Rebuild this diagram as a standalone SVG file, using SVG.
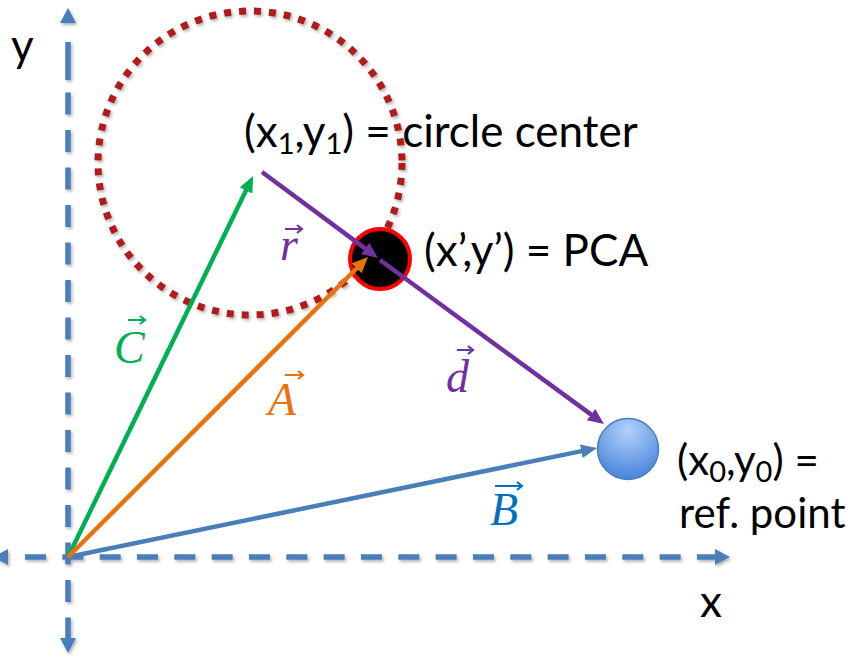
<svg xmlns="http://www.w3.org/2000/svg" width="856" height="659" viewBox="0 0 856 659">
<defs>
  <style>
    .lbl { font-family: Lato, "Liberation Sans", sans-serif; font-size: 44px; fill: #000; }
    .lbs { font-size: 42px; }
    .sub { font-size: 29px; }
    .vec { font-family: "Liberation Serif", serif; font-style: italic; font-size: 46px; }
    .axis { stroke: #4A7EBB; stroke-width: 5.5; fill: none; }
    .axhead { fill: #4A7EBB; }
    .vline { stroke-width: 4.5; fill: none; }
    .varrow { stroke-width: 2.2; fill: none; }
  </style>
  <filter id="sh" x="-10%" y="-10%" width="120%" height="120%">
    <feDropShadow dx="1.5" dy="2" stdDeviation="1.5" flood-color="#000" flood-opacity="0.3"/>
  </filter>
  <radialGradient id="refg" cx="50%" cy="20%" r="85%">
    <stop offset="0" stop-color="#b3d1ff"/>
    <stop offset="1" stop-color="#3f7fd6"/>
  </radialGradient>
  <marker id="mG" markerUnits="userSpaceOnUse" markerWidth="16" markerHeight="14" viewBox="0 0 16 14" refX="4" refY="7" orient="auto"><path d="M0,0 L16,7 L0,14 z" fill="#00B050"/></marker>
  <marker id="mO" markerUnits="userSpaceOnUse" markerWidth="16" markerHeight="14" viewBox="0 0 16 14" refX="4" refY="7" orient="auto"><path d="M0,0 L16,7 L0,14 z" fill="#E8720C"/></marker>
  <marker id="mB" markerUnits="userSpaceOnUse" markerWidth="16" markerHeight="14" viewBox="0 0 16 14" refX="4" refY="7" orient="auto"><path d="M0,0 L16,7 L0,14 z" fill="#4A7EBB"/></marker>
  <marker id="mP" markerUnits="userSpaceOnUse" markerWidth="16" markerHeight="14" viewBox="0 0 16 14" refX="4" refY="7" orient="auto"><path d="M0,0 L16,7 L0,14 z" fill="#7030A0"/></marker>
</defs>

<g id="axes" filter="url(#sh)">
  <line class="axis" x1="25" y1="557" x2="715" y2="557" stroke-dasharray="21 16.33"/>
  <polygon class="axhead" points="715,549 730,557 715,565"/>
  <polygon class="axhead" points="8,549 -7,557 8,565"/>
  <line class="axis" x1="68" y1="42" x2="68" y2="80"/>
  <line class="axis" x1="68" y1="92.5" x2="68" y2="640" stroke-dasharray="22 15.5"/>
  <polygon class="axhead" points="60,23 68,8 76,23"/>
  <polygon class="axhead" points="60,638 68,653 76,638"/>
</g>

<g id="axis-labels">
  <text class="lbl" x="11" y="61">y</text>
  <text class="lbl" x="700" y="617">x</text>
</g>

<g id="center-label">
  <text class="lbl" x="244" y="147">(x<tspan class="sub" dy="7">1</tspan><tspan dy="-7">,y</tspan><tspan class="sub" dy="7">1</tspan><tspan dy="-7">) = circle center</tspan></text>
</g>

<g id="circle" filter="url(#sh)">
  <circle cx="250" cy="163" r="152" fill="none" stroke="#B01C1C" stroke-width="7" stroke-dasharray="7 8"/>
</g>

<g id="pca">
  <circle cx="380" cy="259" r="30" fill="#000" stroke="#FF0000" stroke-width="4"/>
  <text class="lbl" x="424" y="266">(x’,y’) = PCA</text>
</g>

<g id="ref">
  <circle cx="628" cy="449" r="30.5" fill="url(#refg)" stroke="#4A7EBB" stroke-width="1.5"/>
  <text class="lbl lbs" x="677" y="475">(x<tspan class="sub" dy="7">0</tspan><tspan dy="-7">,y</tspan><tspan class="sub" dy="7">0</tspan><tspan dy="-7">) =</tspan></text>
  <text class="lbl lbs" x="679" y="528">ref. point</text>
</g>

<g id="connectors">
  <line class="vline" x1="68" y1="557" x2="247.8" y2="186.8" stroke="#00B050" marker-end="url(#mG)"/>
  <line class="vline" x1="68" y1="557" x2="585.2" y2="450.4" stroke="#4A7EBB" marker-end="url(#mB)"/>
  <line class="vline" x1="68" y1="557" x2="359.5" y2="265.5" stroke="#E8720C" marker-end="url(#mO)"/>
  <line class="vline" x1="262" y1="172" x2="368.4" y2="250.9" stroke="#7030A0" marker-end="url(#mP)"/>
  <line class="vline" x1="380" y1="260" x2="594.3" y2="416.9" stroke="#7030A0" marker-end="url(#mP)"/>
</g>

<g id="vector-labels">
  <text class="vec" x="114" y="363" fill="#00B050">C</text>
  <path class="varrow" d="M128,320 L145,320 M140,316 L145,320 L140,324" stroke="#00B050"/>
  <text class="vec" x="268" y="415" fill="#E8720C">A</text>
  <path class="varrow" d="M285,375 L303,375 M298,371 L303,375 L298,379" stroke="#E8720C"/>
  <text class="vec" x="446" y="392" fill="#7030A0">d</text>
  <path class="varrow" d="M457,350 L473,350 M468,346 L473,350 L468,354" stroke="#7030A0"/>
  <text class="vec" x="280" y="260" fill="#7030A0">r</text>
  <path class="varrow" d="M285,229 L302,229 M297,225 L302,229 L297,233" stroke="#7030A0"/>
  <text class="vec" x="490" y="525" fill="#0070C0">B</text>
  <path class="varrow" d="M495,486 L522,486 M517,482 L522,486 L517,490" stroke="#0070C0"/>
</g>
</svg>
